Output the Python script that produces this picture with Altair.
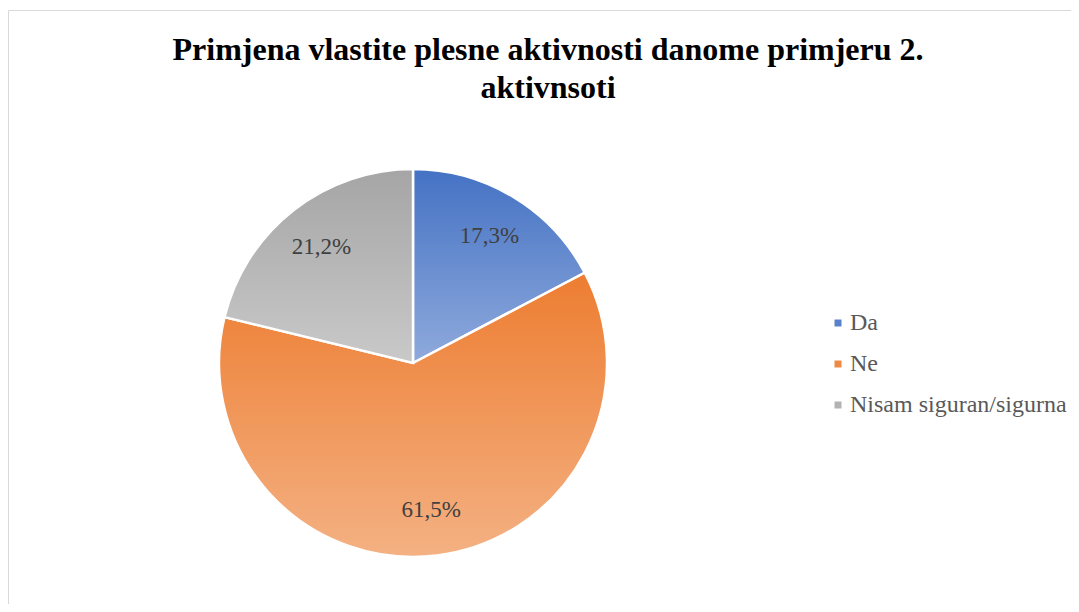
import altair as alt
import pandas as pd

categories = ["Da", "Ne", "Nisam siguran/sigurna"]
values = [17.3, 61.5, 21.2]
labels = ["17,3%", "61,5%", "21,2%"]
order_idx = [0, 1, 2]

top_colors = ["#4472C4", "#ED7D31", "#A5A5A5"]
bottom_colors = ["#8FAADC", "#F4B183", "#C9C9C9"]
legend_colors = ["#5A82CC", "#EF8A45", "#B2B2B2"]

df = pd.DataFrame({"cat": categories, "val": values, "lab": labels, "idx": order_idx})
frame_df = pd.DataFrame({"k": [0]})

def grad(c0, c1):
    return {"gradient": "linear", "x1": 0, "y1": 0, "x2": 0, "y2": 1,
            "stops": [{"offset": 0, "color": c0}, {"offset": 1, "color": c1}]}

SERIF = "Liberation Serif"
CX, CY, R = 405, 353, 194

frame = alt.Chart(frame_df).mark_rect(fill=None, stroke="#D9D9D9", strokeWidth=1).encode(
    x=alt.value(0.5), y=alt.value(0.5), x2=alt.value(3000), y2=alt.value(3000)
)

base = alt.Chart(df).encode(
    theta=alt.Theta("val:Q", stack=True),
    order=alt.Order("idx:Q"),
    x=alt.value(CX), y=alt.value(CY),
)

legend_layer = base.mark_arc(radius=R).encode(
    color=alt.Color("cat:N",
                    scale=alt.Scale(domain=categories, range=legend_colors),
                    sort=categories,
                    legend=alt.Legend(title=None, orient="none", legendX=818, legendY=301,
                                      symbolType="square", symbolSize=49, symbolStrokeWidth=0,
                                      labelFont=SERIF, labelFontSize=24, labelColor="#595959",
                                      rowPadding=17, labelOffset=0, padding=0,
                                      labelLimit=400))
)

fill_cond = alt.when(alt.datum.cat == categories[0]).then(
    alt.value(grad(top_colors[0], bottom_colors[0]))
).when(alt.datum.cat == categories[1]).then(
    alt.value(grad(top_colors[1], bottom_colors[1]))
).otherwise(alt.value(grad(top_colors[2], bottom_colors[2])))

grad_layer = base.mark_arc(radius=R, stroke="white", strokeWidth=2.5).encode(
    fill=fill_cond
)

text_layer = base.mark_text(radius=148, font=SERIF, fontSize=23, color="#404040").encode(
    text="lab:N"
)

chart = alt.layer(frame, legend_layer, grad_layer, text_layer).properties(
    width=1063, height=594,
    autosize=alt.AutoSizeParams(type="none"),
    padding={"left": 0, "top": 2, "right": 0, "bottom": 0},
    title=alt.TitleParams(
        ["Primjena vlastite plesne aktivnosti danome primjeru 2.", "aktivnsoti"],
        font=SERIF, fontSize=32, fontWeight="bold", color="#000000",
        anchor="middle", lineHeight=38, dx=8.5, dy=99, baseline="top",
    ),
).configure_view(stroke=None)

chart.save("out.html", embed_options={"renderer": "svg", "actions": False})
